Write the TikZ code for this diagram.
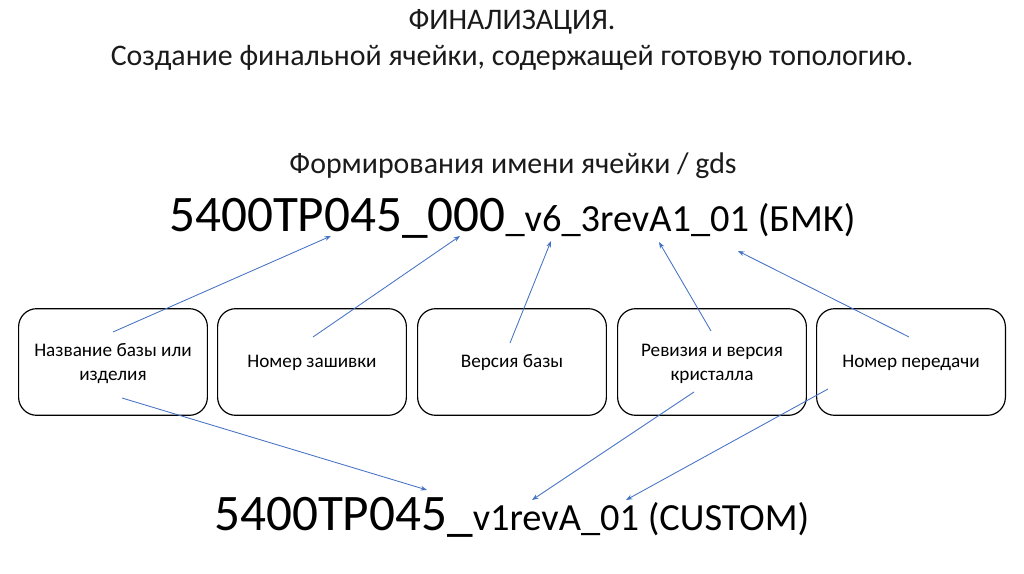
\documentclass[tikz,border=0pt]{standalone}
\usepackage{fontspec}
\setmainfont{Carlito}
\usetikzlibrary{arrows.meta}
\definecolor{arrowblue}{HTML}{4472C4}
\definecolor{titlegray}{HTML}{1A1A1A}
\tikzset{
  x=0.9375pt, y=-0.9375pt,
  infobox/.style={draw=black, line width=1.1pt, rounded corners=17pt,
    minimum width=177pt, minimum height=100pt, inner sep=0pt},
  boxtext/.style={align=center, font=\fontsize{18}{22.5}\selectfont, inner sep=0pt},
  headtext/.style={anchor=base, font=\fontsize{28}{34}\selectfont, text=titlegray, inner sep=0pt},
  link/.style={draw=arrowblue, line width=0.8pt, -{Stealth[length=6pt,width=4.5pt]}},
}
\begin{document}
\begin{tikzpicture}
\useasboundingbox (0,0) rectangle (1024,574);
% title
\node[headtext] (t1) at (512,30) {ФИНАЛИЗАЦИЯ.};
\node[headtext] (t2) at (512,66) {Создание финальной ячейки, содержащей готовую топологию.};
\node[headtext] (sub) at (513,174) {Формирования имени ячейки / gds};
% name lines
\node[anchor=base west, inner sep=0pt] (top) at (169,232)
  {{\fontsize{48}{52}\selectfont 5400TP045\_000}{\fontsize{36}{40}\selectfont \_v6\_3revA1\_01 (БМК)}};
\node[anchor=base west, inner sep=0pt] (bot) at (214,530)
  {{\fontsize{48}{52}\selectfont 5400TP045\_}{\fontsize{36}{40}\selectfont v1revA\_01 (CUSTOM)}};
% boxes
\node[infobox] (b1) at (113,362) {};
\node[infobox] (b2) at (312,362) {};
\node[infobox] (b3) at (512,362) {};
\node[infobox] (b4) at (712,362) {};
\node[infobox] (b5) at (911,362) {};
\node[boxtext] (l1) at (113,364) {Название базы или\\изделия};
\node[boxtext] (l2) at (312,363) {Номер зашивки};
\node[boxtext] (l3) at (512,363) {Версия базы};
\node[boxtext] (l4) at (712,364) {Ревизия и версия\\кристалла};
\node[boxtext] (l5) at (911,363) {Номер передачи};
% arrow ends
\coordinate (s1) at (113,332); \coordinate (e1) at (331,236);
\coordinate (s2) at (313,337); \coordinate (e2) at (460,236);
\coordinate (s3) at (510,343); \coordinate (e3) at (551,241);
\coordinate (s4) at (711,331); \coordinate (e4) at (659,242);
\coordinate (s5) at (909,337); \coordinate (e5) at (738,251);
\coordinate (s6) at (122,398); \coordinate (e6) at (427,490);
\coordinate (s7) at (694,392); \coordinate (e7) at (532,500);
\coordinate (s8) at (828,389); \coordinate (e8) at (626,500);
\draw[link] (s1) -- (e1);
\draw[link] (s2) -- (e2);
\draw[link] (s3) -- (e3);
\draw[link] (s4) -- (e4);
\draw[link] (s5) -- (e5);
\draw[link] (s6) -- (e6);
\draw[link] (s7) -- (e7);
\draw[link] (s8) -- (e8);
\end{tikzpicture}
\end{document}
